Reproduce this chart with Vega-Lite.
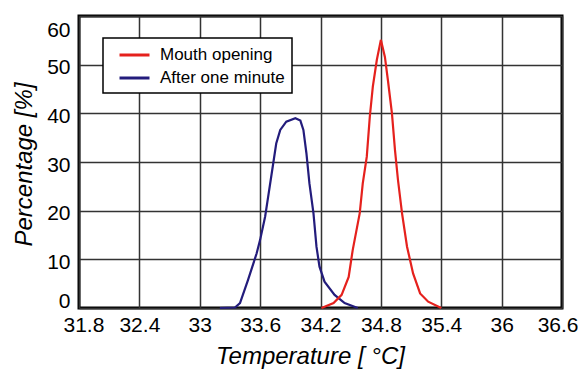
{
  "$schema": "https://vega.github.io/schema/vega-lite/v6.json",
  "width": 483,
  "height": 292,
  "autosize": {"type": "none"},
  "padding": {"left": 79, "top": 16, "right": 16, "bottom": 62},
  "background": "white",
  "config": {
    "view": {"stroke": "black", "strokeWidth": 3},
    "legend": {"strokeWidth": 1.5},
    "axis": {
      "labelFont": "Liberation Sans",
      "labelFontSize": 21,
      "labelColor": "black",
      "titleFont": "Liberation Sans",
      "titleFontSize": 24,
      "titleFontStyle": "italic",
      "titleFontWeight": "normal",
      "titleColor": "black",
      "gridColor": "#333333",
      "gridWidth": 1.5,
      "gridOpacity": 1,
      "domain": false,
      "ticks": false
    }
  },
  "data": {
    "values": [
      {"series": "After one minute", "T": 33.20, "P": 0},
      {"series": "After one minute", "T": 33.35, "P": 0.1},
      {"series": "After one minute", "T": 33.40, "P": 1.0},
      {"series": "After one minute", "T": 33.48, "P": 5.8},
      {"series": "After one minute", "T": 33.565, "P": 11.2},
      {"series": "After one minute", "T": 33.60, "P": 14.0},
      {"series": "After one minute", "T": 33.65, "P": 18.8},
      {"series": "After one minute", "T": 33.68, "P": 22.9},
      {"series": "After one minute", "T": 33.73, "P": 29.7},
      {"series": "After one minute", "T": 33.76, "P": 33.8},
      {"series": "After one minute", "T": 33.80, "P": 36.6},
      {"series": "After one minute", "T": 33.86, "P": 38.3},
      {"series": "After one minute", "T": 33.95, "P": 39.0},
      {"series": "After one minute", "T": 34.00, "P": 38.5},
      {"series": "After one minute", "T": 34.03, "P": 36.6},
      {"series": "After one minute", "T": 34.06, "P": 31.8},
      {"series": "After one minute", "T": 34.09, "P": 25.6},
      {"series": "After one minute", "T": 34.13, "P": 19.5},
      {"series": "After one minute", "T": 34.16, "P": 12.6},
      {"series": "After one minute", "T": 34.19, "P": 8.5},
      {"series": "After one minute", "T": 34.24, "P": 5.4},
      {"series": "After one minute", "T": 34.34, "P": 2.7},
      {"series": "After one minute", "T": 34.44, "P": 1.0},
      {"series": "After one minute", "T": 34.57, "P": 0},
      {"series": "Mouth opening", "T": 34.21, "P": 0},
      {"series": "Mouth opening", "T": 34.33, "P": 1.0},
      {"series": "Mouth opening", "T": 34.41, "P": 2.7},
      {"series": "Mouth opening", "T": 34.48, "P": 6.4},
      {"series": "Mouth opening", "T": 34.52, "P": 11.9},
      {"series": "Mouth opening", "T": 34.59, "P": 19.5},
      {"series": "Mouth opening", "T": 34.62, "P": 25.6},
      {"series": "Mouth opening", "T": 34.66, "P": 31.1},
      {"series": "Mouth opening", "T": 34.69, "P": 39.3},
      {"series": "Mouth opening", "T": 34.72, "P": 45.5},
      {"series": "Mouth opening", "T": 34.76, "P": 51.0},
      {"series": "Mouth opening", "T": 34.80, "P": 55.1},
      {"series": "Mouth opening", "T": 34.84, "P": 51.6},
      {"series": "Mouth opening", "T": 34.87, "P": 46.8},
      {"series": "Mouth opening", "T": 34.91, "P": 40.0},
      {"series": "Mouth opening", "T": 34.94, "P": 32.5},
      {"series": "Mouth opening", "T": 34.97, "P": 26.3},
      {"series": "Mouth opening", "T": 35.01, "P": 19.5},
      {"series": "Mouth opening", "T": 35.06, "P": 12.6},
      {"series": "Mouth opening", "T": 35.12, "P": 7.1},
      {"series": "Mouth opening", "T": 35.19, "P": 3.0},
      {"series": "Mouth opening", "T": 35.27, "P": 1.3},
      {"series": "Mouth opening", "T": 35.40, "P": 0}
    ]
  },
  "mark": {"type": "line", "strokeWidth": 2.2},
  "encoding": {
    "x": {
      "field": "T",
      "type": "quantitative",
      "scale": {"domain": [31.8, 36.6], "nice": false, "zero": false},
      "axis": {
        "values": [31.8, 32.4, 33, 33.6, 34.2, 34.8, 35.4, 36, 36.6],
        "format": "~g",
        "labelFlush": true,
        "labelFlushOffset": 16,
        "labelPadding": 6,
        "title": "Temperature [ °C]",
        "titleX": 231,
        "titleY": 48,
        "titleBaseline": "middle",
        "titleAnchor": "middle"
      }
    },
    "y": {
      "field": "P",
      "type": "quantitative",
      "scale": {"domain": [0, 60], "nice": false},
      "axis": {
        "values": [0, 10, 20, 30, 40, 50, 60],
        "labelFlush": true,
        "labelOffset": 3,
        "labelPadding": 9,
        "title": "Percentage [%]",
        "titleX": -55,
        "titleY": 148,
        "titleBaseline": "middle",
        "titleAngle": -90,
        "titleAnchor": "middle"
      }
    },
    "color": {
      "field": "series",
      "type": "nominal",
      "scale": {"domain": ["Mouth opening", "After one minute"], "range": ["#e5211d", "#231c7c"]},
      "legend": {
        "title": null,
        "orient": "none",
        "legendX": 24,
        "legendY": 22,
        "symbolType": "M-1.111,0h3.333",
        "symbolSize": 324,
        "symbolStrokeWidth": 3,
        "symbolOffset": 9.5,
        "labelFont": "Liberation Sans",
        "labelFontSize": 17,
        "labelColor": "black",
        "labelOffset": 20,
        "padding": 6.5,
        "rowPadding": 4,
        "strokeColor": "black",
        "fillColor": "white"
      }
    }
  }
}
